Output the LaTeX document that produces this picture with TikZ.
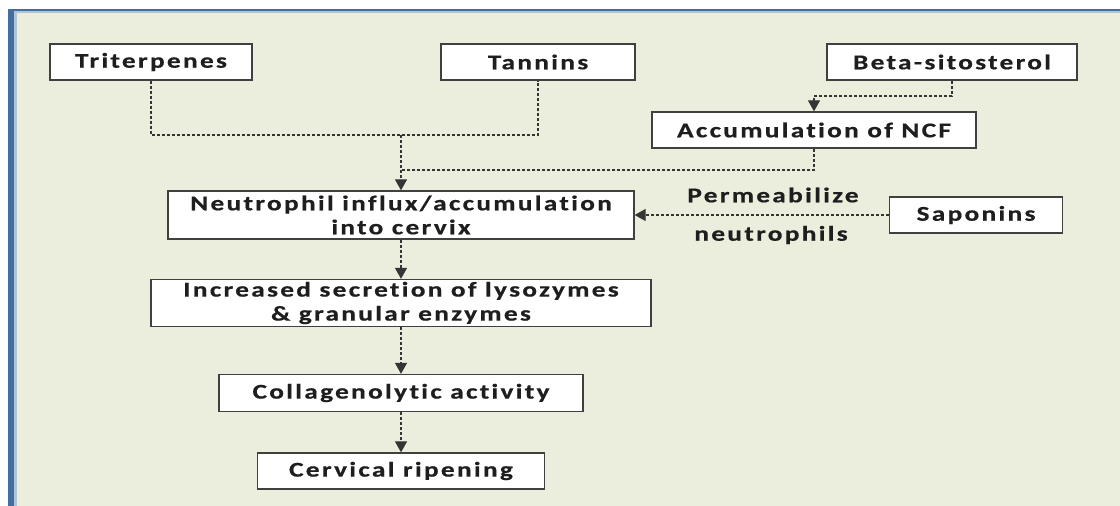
\documentclass[tikz,border=0pt]{standalone}
\usepackage{fontspec}
\setmainfont{Carlito}[FakeStretch=1.3, LetterSpace=11, FakeBold=0.6, Ligatures={NoCommon}]
\usepackage{tikz}
\usetikzlibrary{calc, positioning, arrows.meta}
\usepackage{xcolor}
\definecolor{paneBg}{RGB}{235, 238, 221}
\definecolor{paneBar}{RGB}{68, 110, 160}
\definecolor{paneLight}{RGB}{176, 196, 214}
\definecolor{inkGray}{RGB}{30, 30, 30}

\begin{document}
\begin{tikzpicture}[x=1pt, y=-1pt,
    box/.style={draw=inkGray!85, line width=1.3pt, fill=white, inner sep=0pt,
      align=center, font=\fontsize{21}{24}\selectfont\bfseries, text=inkGray},
    lbl/.style={font=\fontsize{21}{24}\selectfont\bfseries, text=inkGray, inner sep=0pt},
    link/.style={draw=inkGray!90, line width=1.1pt, dash pattern=on 3pt off 2pt},
    tip/.style={-{Triangle[width=12pt, length=11pt]}}]
  \useasboundingbox (0,0) rectangle (1120,506);
  % slide pane
  \fill[paneBg] (8,9) rectangle (1120,506);
  \fill[paneLight] (14,11) rectangle (17,506);
  \fill[paneLight] (14,11) rectangle (1120,13);
  \fill[paneBar] (8,9) rectangle (14,506);
  \fill[paneBar] (8,9) rectangle (1120,11);
  % top row
  \node[box, minimum width=202pt, minimum height=36pt] (tri) at (151,62) {Triterpenes};
  \node[box, minimum width=194pt, minimum height=36pt] (tan) at (538,62) {Tannins};
  \node[box, minimum width=250pt, minimum height=36pt] (beta) at (952,62) {Beta-sitosterol};
  \node[box, minimum width=324pt, minimum height=36pt] (ncf) at (814,130) {Accumulation of NCF};
  % main chain
  \node[box, minimum width=466pt, minimum height=48pt] (neu) at (401,215) {Neutrophil influx/accumulation\\into cervix};
  \node[box, minimum width=173pt, minimum height=36pt] (sap) at (976,215) {Saponins};
  \node[box, minimum width=500pt, minimum height=47pt] (inc) at (401,303) {Increased secretion of lysozymes\\\& granular enzymes};
  \node[box, minimum width=364pt, minimum height=37pt] (col) at (401,393) {Collagenolytic activity};
  \node[box, minimum width=287pt, minimum height=36pt] (cer) at (401,471) {Cervical ripening};
  \node[lbl] (perm) at (773,195) {Permeabilize};
  \node[lbl] (neut) at (771,235) {neutrophils};
  % junctions
  \coordinate (j1) at (401,135);
  \coordinate (j2) at (401,170);
  \coordinate (j3) at (814,96);
  % connectors
  \draw[link] (tri.south) |- (j1) -| (tan.south);
  \draw[link, tip] (j1) -- (neu.north);
  \draw[link] (ncf.south) |- (j2);
  \draw[link, tip] (beta.south) |- (j3) -- (ncf.north);
  \draw[link, tip] (sap.west) -- (neu.east);
  \draw[link, tip] (neu.south) -- (inc.north);
  \draw[link, tip] (inc.south) -- (col.north);
  \draw[link, tip] (col.south) -- (cer.north);
\end{tikzpicture}
\end{document}
